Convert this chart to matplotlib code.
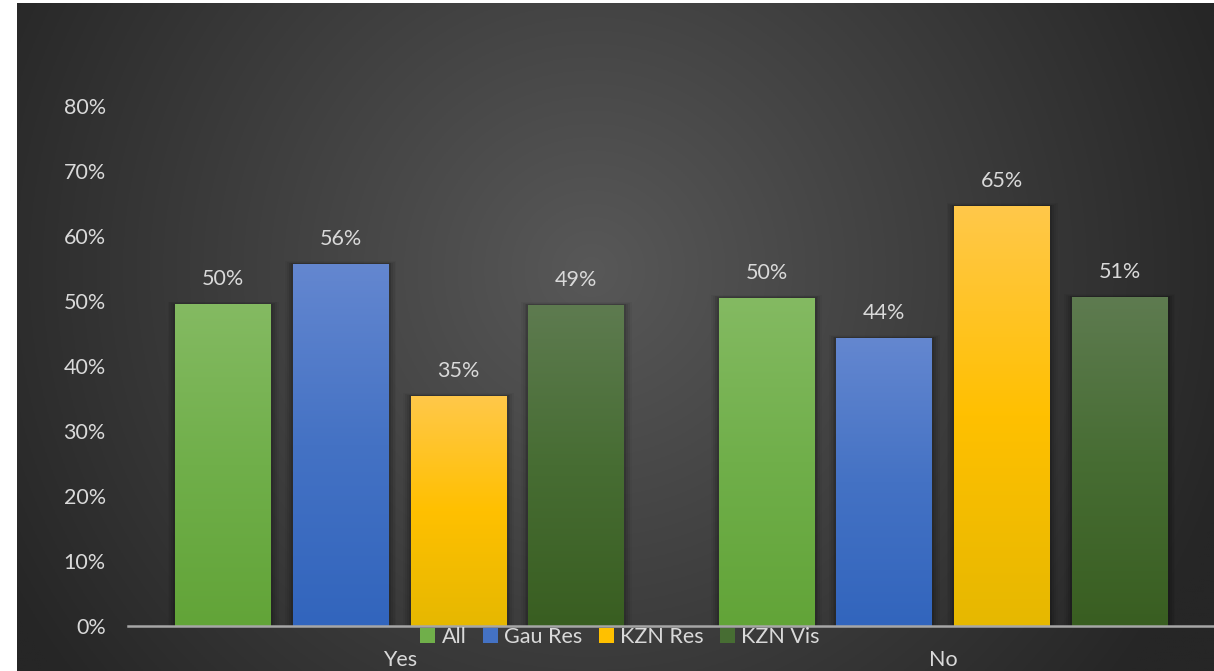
import numpy as np
import matplotlib
matplotlib.use("Agg")
import matplotlib.pyplot as plt
from matplotlib.colors import LinearSegmentedColormap, to_rgb
from matplotlib.patches import Patch

categories = ["Yes", "No"]
series = ["All", "Gau Res", "KZN Res", "KZN Vis"]
all_vals = [0.495, 0.505]
gau_vals = [0.557, 0.443]
kznres_vals = [0.354, 0.646]
kznvis_vals = [0.494, 0.506]
values = [all_vals, gau_vals, kznres_vals, kznvis_vals]
yticks = [0, 0.1, 0.2, 0.3, 0.4, 0.5, 0.6, 0.7, 0.8]
ytick_labels = ["0%", "10%", "20%", "30%", "40%", "50%", "60%", "70%", "80%"]

top_colors = ["#84ba62", "#6487d0", "#ffc84a", "#5e7b50"]
bot_colors = ["#62a438", "#3265bd", "#e6b800", "#395e21"]
mid_colors = ["#70af4a", "#4472c4", "#ffc000", "#476d33"]
text_col = "#d9d9d9"
FS = 15.5

W, H = 1214, 671
fig = plt.figure(figsize=(W / 100, H / 100), dpi=100)
fig.patch.set_facecolor("white")

# background radial gradient
bg = fig.add_axes([17 / W, 0, 1 - 17 / W, (H - 3) / H], zorder=0)
bg.set_axis_off()
nx, ny = 600, 340
xx, yy = np.meshgrid(np.linspace(0, 1, nx), np.linspace(0, 1, ny))
cx, cy = 0.48, 0.40
d = np.sqrt(((xx - cx) * 1.0) ** 2 + ((yy - cy) * 0.56) ** 2)
d = np.clip(d / 0.56, 0, 1)
c0 = np.array(to_rgb("#585858"))
c1 = np.array(to_rgb("#262626"))
img = c0[None, None, :] * (1 - d[..., None]) + c1[None, None, :] * d[..., None]
bg.imshow(img, extent=[0, 1, 0, 1], aspect="auto", origin="upper")
bg.set_xlim(0, 1)
bg.set_ylim(0, 1)

ax = fig.add_axes([128 / W, 45 / H, (1215 - 128) / W, (626 - 106) / H], zorder=1)
ax.patch.set_alpha(0)

x = np.arange(len(categories))
step = 0.2166
width = 0.1766
offsets = (np.arange(len(series)) - 1.5) * step

for i, (name, vals) in enumerate(zip(series, values)):
    bars = ax.bar(x + offsets[i], vals, width, color=mid_colors[i], label=name, zorder=3)
    cmap = LinearSegmentedColormap.from_list(f"g{i}", [bot_colors[i], mid_colors[i], top_colors[i]])
    for b, v in zip(bars, vals):
        bx, by = b.get_x(), b.get_y()
        bw, bh = b.get_width(), b.get_height()
        # soft shadow
        for k, a in enumerate([0.10, 0.08, 0.06, 0.04]):
            ext = (k + 1) * 0.0035
            ax.add_patch(plt.Rectangle((bx - ext, by), bw + 2 * ext, bh + ext * 0.3,
                                       color="black", alpha=a, zorder=2, lw=0))
        grad = np.linspace(0, 1, 256).reshape(-1, 1)
        im = ax.imshow(grad, extent=[bx, bx + bw, by, by + bh], origin="lower",
                       aspect="auto", cmap=cmap, zorder=4)
        im.set_clip_path(b)
        ax.annotate(f"{round(v * 100):.0f}%", (bx + bw / 2, by + bh), xytext=(0, 18),
                    textcoords="offset points", ha="center", va="center",
                    color=text_col, fontsize=FS, family="Lato", zorder=5)

ax.set_xlim(-0.5, 1.5)
ax.set_ylim(0, 0.8)
ax.set_yticks(yticks)
ax.set_yticklabels(ytick_labels, color=text_col, fontsize=FS, family="Lato")
ax.set_xticks(x)
ax.set_xticklabels(categories, color=text_col, fontsize=FS, family="Lato")
ax.tick_params(axis="y", length=0, pad=16)
ax.tick_params(axis="x", length=0, pad=17)
for s in ["top", "right", "left"]:
    ax.spines[s].set_visible(False)
ax.spines["bottom"].set_color("#a6a6a6")
ax.spines["bottom"].set_linewidth(1.8)
ax.spines["bottom"].set_zorder(6)

handles = [Patch(facecolor=mid_colors[i], edgecolor="none", label=series[i]) for i in range(len(series))]
leg = fig.legend(handles=handles, loc="center", bbox_to_anchor=(620 / W, (H - 637) / H),
                 ncol=4, frameon=False, handlelength=0.7, handleheight=0.7,
                 handletextpad=0.3, columnspacing=0.75,
                 prop={"family": "Lato", "size": FS})
for t in leg.get_texts():
    t.set_color(text_col)
leg.set_zorder(7)

fig.savefig("out.png", dpi=100)
